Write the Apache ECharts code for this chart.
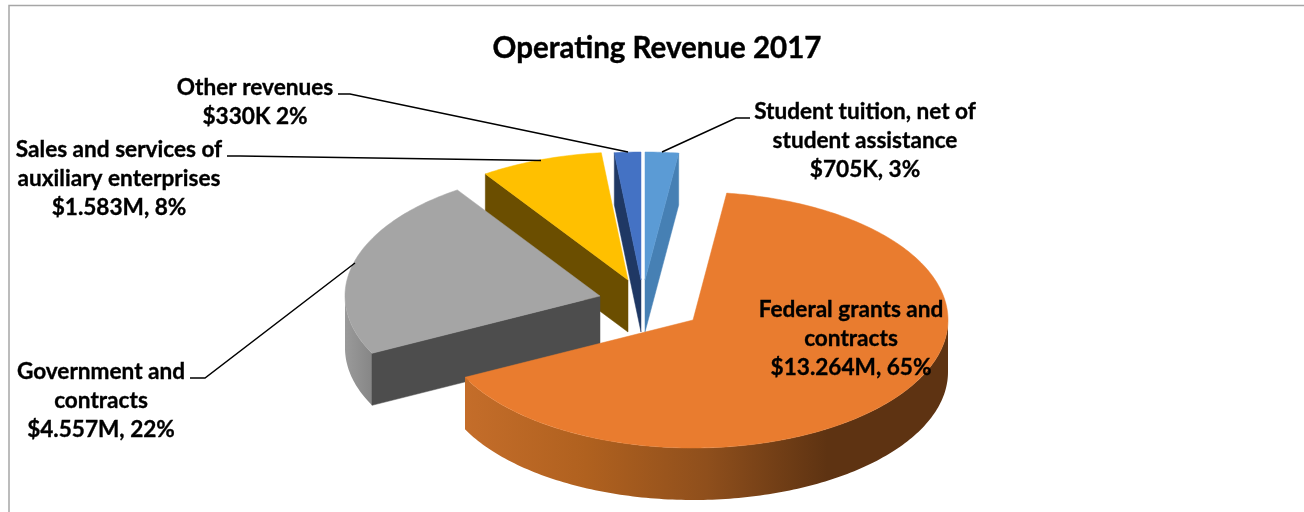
<!DOCTYPE html>
<html>
<head>
<meta charset="utf-8">
<style>html,body{margin:0;padding:0;background:#fff;overflow:hidden}#c{width:1304px;height:512px}</style>
<script src="https://cdn.jsdelivr.net/npm/echarts@6/dist/echarts.min.js"></script>
</head>
<body>
<div id="c"></div>
<script>
// Data, in the chart's clockwise order, beginning at twelve o'clock.
const categories = ['Student tuition, net of student assistance', 'Federal grants and contracts', 'Government and contracts', 'Sales and services of auxiliary enterprises', 'Other revenues'];
const amountLabels = ['$705K', '$13.264M', '$4.557M', '$1.583M', '$330K'];
const percentLabels = ['3%', '65%', '22%', '8%', '2%'];
const wedgeShares = [2.11, 65.5, 22.94, 7.78, 1.67];

// Styles and layout, kept apart from the data.
const FONT = 'Lato';
const RX = 255, RY = 128, DEPTH = 52;
const centers = [[645, 280], [693, 320], [600, 296], [628, 280], [641, 280]];
const topColors = ['#5b9bd5', '#e97c2f', '#a5a5a5', '#ffc000', '#4472c4'];
const faceColors = ['#4680b4', '#8a4b17', '#4d4d4d', '#6b4e00', '#1f3864'];
const wallStops = [
  ['#4680b4', '#4680b4'],
  ['#c46d2a', '#b0611f', '#8f4f1c', '#5e3312', '#5e3312'],
  ['#9a9a9a', '#868686'],
  ['#6b4e00', '#6b4e00'],
  ['#1f3864', '#1f3864']
];
const labelText = [
  'Student tuition, net of\nstudent assistance\n$705K, 3%',
  'Federal grants and\ncontracts\n$13.264M, 65%',
  'Government and\ncontracts\n$4.557M, 22%',
  'Sales and services of\nauxiliary enterprises\n$1.583M, 8%',
  'Other revenues\n$330K 2%'
];
const labelPos = [[865, 141], [851, 339], [101, 401], [119, 179], [255, 102]];
const leaders = [
  [[750, 118], [736, 118], [662, 152]],
  null,
  [[190, 378], [205, 378], [355, 263]],
  [[227, 156], [240, 156], [541, 160.5]],
  [[338, 94], [350, 94], [628, 152]]
];
const drawOrder = [3, 4, 0, 2, 1];

const totalShare = wedgeShares.reduce((a, b) => a + b, 0);
const spans = [];
let cum = 0;
wedgeShares.forEach(v => {
  const sweep = v / totalShare * 360;
  spans.push([cum, cum + sweep]);
  cum += sweep;
});

function pt(c, deg, drop) {
  const t = deg * Math.PI / 180;
  return [c[0] + RX * Math.sin(t), c[1] - RY * Math.cos(t) + (drop || 0)];
}
function arc(c, a, b, drop) {
  const out = [], n = Math.max(2, Math.ceil(Math.abs(b - a)));
  for (let i = 0; i <= n; i++) out.push(pt(c, a + (b - a) * i / n, drop));
  return out;
}
function poly(points, fill, z2) {
  return { type: 'polygon', z2: z2 || 0, shape: { points }, style: { fill, stroke: typeof fill === 'string' ? fill : null, lineWidth: 0.5 } };
}

function renderItem(params, api) {
  const i = api.value(0);
  const c = centers[i], s = spans[i], a = s[0], b = s[1];
  const kids = [];
  const bottomApex = [c[0], c[1] + DEPTH];
  // Outer rim: only the near half of the ellipse is visible.
  const lo = Math.max(a, 90), hi = Math.min(b, 270);
  if (hi > lo) {
    const stops = wallStops[i].map((col, k, arr) => ({ offset: k / (arr.length - 1), color: col }));
    kids.push(poly(arc(c, lo, hi, 0).concat(arc(c, hi, lo, DEPTH)), new echarts.graphic.LinearGradient(0, 0, 1, 0, stops)));
  }
  // Cut faces that look towards the viewer.
  if (Math.sin(a * Math.PI / 180) < -1e-6) {
    kids.push(poly([c, pt(c, a), pt(c, a, DEPTH), bottomApex], faceColors[i]));
  }
  if (Math.sin(b * Math.PI / 180) > 1e-6) {
    kids.push(poly([c, pt(c, b), pt(c, b, DEPTH), bottomApex], faceColors[i]));
  }
  // Top surface.
  kids.push(poly([c].concat(arc(c, a, b, 0)), topColors[i]));
  return { type: 'group', children: kids };
}

function renderNotes(params, api) {
  const i = api.value(0);
  const kids = [{
    type: 'text', z2: 20, x: labelPos[i][0], y: labelPos[i][1],
    style: { text: labelText[i], fill: '#000', stroke: '#000', lineWidth: 0.35, font: 'bold 22.6px ' + FONT, align: 'center', verticalAlign: 'middle', lineHeight: 29 }
  }];
  if (leaders[i]) {
    kids.push({ type: 'polyline', z2: 19, shape: { points: leaders[i] }, style: { fill: null, stroke: '#000', lineWidth: 1.5 } });
  }
  return { type: 'group', children: kids };
}

const chart = echarts.init(document.getElementById('c'), null, { renderer: 'canvas' });
chart.setOption({
  animation: false,
  backgroundColor: '#fff',
  title: {
    text: 'Operating Revenue 2017', left: 652, top: 28, textAlign: 'center',
    textStyle: { fontFamily: FONT, fontWeight: 'bold', fontSize: 29.5, color: '#000', textBorderColor: '#000', textBorderWidth: 0.4 }
  },
  graphic: [{
    type: 'rect', silent: true, z: -1,
    shape: { x: 9, y: 5.5, width: 1400, height: 700 },
    style: { fill: null, stroke: '#a6a6a6', lineWidth: 1.5 }
  }],
  series: [
    {
      type: 'custom', coordinateSystem: 'none', renderItem, silent: true, z: 2,
      data: drawOrder.map(i => ({ name: categories[i], value: [i, wedgeShares[i]] }))
    },
    {
      type: 'custom', coordinateSystem: 'none', renderItem: renderNotes, silent: true, z: 3,
      data: categories.map((n, i) => ({ name: amountLabels[i] + ' ' + percentLabels[i], value: [i] }))
    }
  ]
});
</script>
</body>
</html>
